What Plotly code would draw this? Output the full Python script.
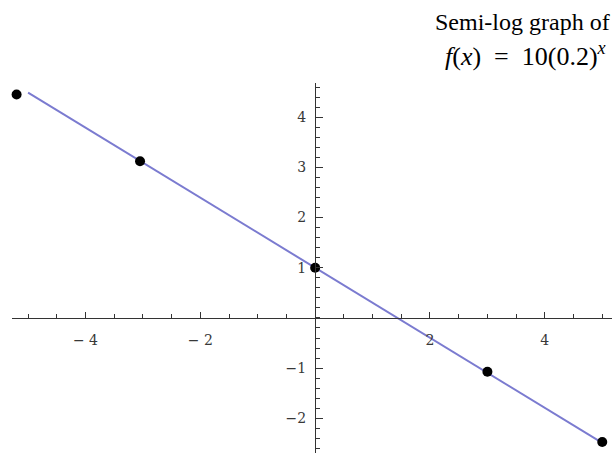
import numpy as np
import plotly.graph_objects as go

# data
line_x = [-5.0, 5.0]
line_y = [4.49, -2.49]
pts_x = [-5.2, -3.05, 0.0, 3.0, 5.0]
pts_y = [4.45, 3.12, 1.0, -1.07, -2.47]
xtick_vals = [-4, -2, 2, 4]
xtick_text = ["\u2212 4", "\u2212 2", "2", "4"]
ytick_vals = [-2, -1, 1, 2, 3, 4]
ytick_text = ["\u22122", "\u22121", "1", "2", "3", "4"]
title_line1 = "Semi-log graph of"
title_line2 = "<i>f</i>(<i>x</i>)&nbsp;&nbsp;=&nbsp;&nbsp;10(0.2)<sup><i>x</i></sup>"

xr = [-5.28, 5.17]
yr = [-2.69, 4.68]

fig = go.Figure()
fig.add_trace(go.Scatter(x=line_x, y=line_y, mode="lines",
                         line=dict(color="#7b7bd0", width=2), cliponaxis=False,
                         hoverinfo="skip"))
fig.add_trace(go.Scatter(x=pts_x, y=pts_y, mode="markers",
                         marker=dict(color="black", size=10), cliponaxis=False))

tickfont = dict(family="DejaVu Serif", size=14, color="#383838")
fig.update_layout(
    width=616, height=453,
    margin=dict(l=12, r=4, t=83, b=0),
    paper_bgcolor="white", plot_bgcolor="white",
    showlegend=False,
    xaxis=dict(range=xr, showgrid=False, zeroline=False, automargin=False,
               showline=True, linecolor="#333333", linewidth=1.2,
               anchor="free", position=(0 - yr[0]) / (yr[1] - yr[0]),
               side="bottom",
               tickmode="array", tickvals=xtick_vals, ticktext=xtick_text,
               ticks="inside", ticklen=6, tickwidth=1.2, tickcolor="#333333",
               tickfont=tickfont, ticklabelstandoff=9,
               minor=dict(dtick=0.5, tick0=0, ticks="inside", ticklen=4,
                          tickwidth=1, tickcolor="#333333")),
    yaxis=dict(range=yr, showgrid=False, zeroline=False, automargin=False,
               showline=True, linecolor="#333333", linewidth=1.2,
               anchor="free", position=(0 - xr[0]) / (xr[1] - xr[0]),
               side="left",
               tickmode="array", tickvals=ytick_vals, ticktext=ytick_text,
               ticks="inside", ticklen=7, tickwidth=1.2, tickcolor="#333333",
               tickfont=tickfont, ticklabelstandoff=6,
               minor=dict(dtick=0.2, tick0=0, ticks="inside", ticklen=4,
                          tickwidth=1, tickcolor="#333333")),
    annotations=[
        dict(text=title_line1, xref="paper", yref="paper", x=1, y=1,
             xanchor="right", yanchor="middle", xshift=0, yshift=61,
             showarrow=False,
             font=dict(family="Liberation Serif", size=24, color="black")),
        dict(text=title_line2, xref="paper", yref="paper", x=1, y=1,
             xanchor="right", yanchor="middle", xshift=-4, yshift=29,
             showarrow=False,
             font=dict(family="Liberation Serif", size=26, color="black")),
    ],
)

fig.write_html("out.html", config={"displayModeBar": False},
               post_script="document.body.style.margin='0';document.body.style.padding='0';")
